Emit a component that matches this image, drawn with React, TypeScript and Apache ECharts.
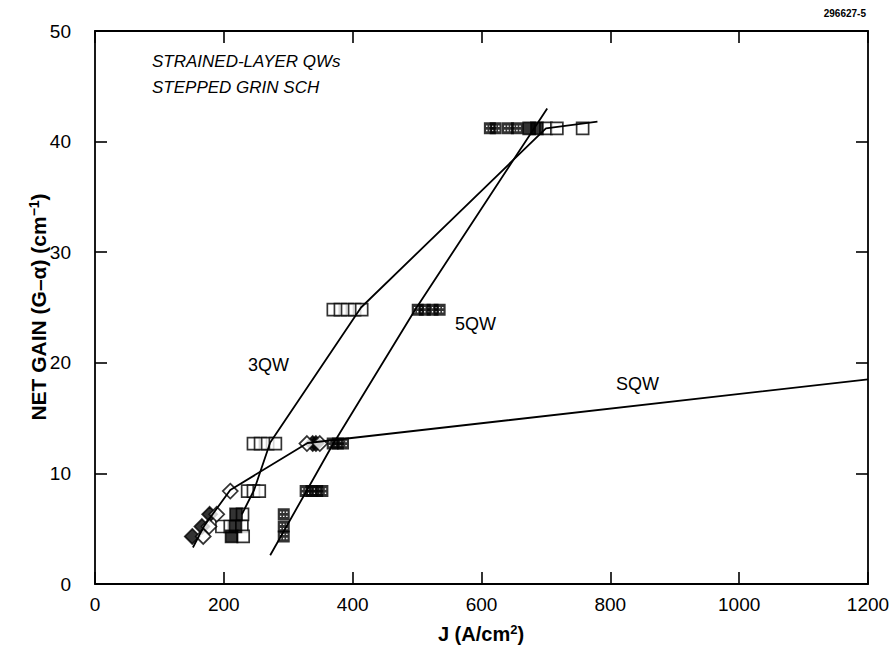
import React, { useEffect, useRef } from "react";
import * as echarts from "echarts";

// ---- data (J in A/cm^2, net gain in cm^-1) ----
const xTickLabels = ["0", "200", "400", "600", "800", "1000", "1200"];
const yTickLabels = ["0", "10", "20", "30", "40", "50"];

const openSquares: [number, number][] = [
  [700, 41.2], [717, 41.2], [757, 41.2],
  [370, 24.8], [381, 24.8], [392, 24.8], [403, 24.8], [414, 24.8],
  [246, 12.7], [257, 12.7], [268, 12.7], [280, 12.7],
  [237, 8.4], [246, 8.4], [255, 8.4],
  [229, 6.3],
  [197, 5.2], [210, 5.2], [228, 5.2],
  [230, 4.3],
];
const filledSquares: [number, number][] = [
  [674, 41.2], [686, 41.2],
  [219, 6.3], [218, 5.2], [212, 4.3],
];
const hatchedSquares: [number, number][] = [
  [613, 41.2], [622, 41.2], [641, 41.2], [655, 41.2],
  [501, 24.8], [512, 24.8], [524, 24.8], [535, 24.8],
  [369, 12.7], [377, 12.7], [385, 12.7],
  [327, 8.4], [336, 8.4], [345, 8.4], [353, 8.4],
  [293, 6.3], [293, 5.2], [293, 4.3],
];
const filledDiamonds: [number, number][] = [
  [338, 12.7], [343, 12.7], [178, 6.3], [166, 5.2], [151, 4.3],
];
const openDiamonds: [number, number][] = [
  [329, 12.7], [349, 12.7], [210, 8.4], [189, 6.3], [177, 5.2], [168, 4.3],
];

const line3QW: [number, number][] = [
  [228, 6.3], [247, 8.5], [272, 12.8], [413, 25.0], [700, 41.2], [780, 41.8],
];
const line5QW: [number, number][] = [
  [272, 2.6], [368, 12.5], [497, 24.8], [702, 43.0],
];
const lineSQW: [number, number][] = [
  [152, 3.3], [170, 5.3], [210, 8.5], [330, 12.75], [1200, 18.5],
];

const HATCH =
  "path://M0,0H12V12H0Z M2.2,3.2V4.6H3.6V3.2Z M5.3,3.2V4.6H6.7V3.2Z M8.4,3.2V4.6H9.8V3.2Z M2.2,7.4V8.8H3.6V7.4Z M5.3,7.4V8.8H6.7V7.4Z M8.4,7.4V8.8H9.8V7.4Z";

const FONT = "Liberation Sans, Arial, Helvetica, sans-serif";

export default function App() {
  const ref = useRef<HTMLDivElement>(null);
  useEffect(() => {
    if (!ref.current) return;
    const chart = echarts.init(ref.current, null, { renderer: "svg" });
    const axisLine = { show: true, onZero: false, lineStyle: { color: "#000", width: 1.8 } };
    const tick = { show: true, inside: true, length: 12, lineStyle: { color: "#000", width: 1.6 } };
    const lineSeries = (name: string, data: [number, number][]) => ({
      name,
      type: "line",
      data,
      showSymbol: false,
      symbol: "none",
      lineStyle: { color: "#000", width: 1.8 },
      z: 5,
    });
    const scatter = (name: string, data: [number, number][], symbol: string, size: number, color: string, border: boolean) => ({
      name,
      type: "scatter",
      data,
      symbol,
      symbolSize: size,
      itemStyle: border
        ? { color, borderColor: "#000", borderWidth: 1.7 }
        : { color, borderWidth: 0 },
      z: 3,
    });
    const title = { fontSize: 20, fontWeight: "bold", fontFamily: FONT, fill: "#000" };
    const sup = { fontSize: 13, fontWeight: "bold", fontFamily: FONT, fill: "#000", verticalAlign: "top", padding: [0, 0, 9, 0] };
    const ytitle = { fontSize: 21, fontWeight: "bold", fontFamily: FONT, fill: "#000" };
    const ysup = { fontSize: 14, fontWeight: "bold", fontFamily: FONT, fill: "#000", verticalAlign: "top", padding: [0, 0, 9, 0] };
    chart.setOption({
      animation: false,
      backgroundColor: "#fff",
      grid: { left: 95, right: 28, top: 31, bottom: 71, containLabel: false },
      xAxis: [
        {
          type: "value", min: 0, max: 1200, interval: 200,
          axisLine, axisTick: tick, splitLine: { show: false },
          axisLabel: {
            color: "#000", fontSize: 19, fontFamily: FONT, margin: 11,
            formatter: (v: number) => xTickLabels[Math.round(v / 200)] ?? "",
          },
        },
        {
          type: "value", position: "top", min: 0, max: 1200, interval: 200,
          axisLine, axisTick: tick, axisLabel: { show: false }, splitLine: { show: false },
        },
      ],
      yAxis: [
        {
          type: "value", min: 0, max: 50, interval: 10,
          axisLine, axisTick: tick, splitLine: { show: false },
          axisLabel: {
            color: "#000", fontSize: 19, fontFamily: FONT, margin: 24,
            formatter: (v: number) => yTickLabels[Math.round(v / 10)] ?? "",
          },
        },
        {
          type: "value", position: "right", min: 0, max: 50, interval: 10,
          axisLine, axisTick: tick, axisLabel: { show: false }, splitLine: { show: false },
        },
      ],
      series: [
        scatter("hatched", hatchedSquares, HATCH, 12, "#000", false),
        scatter("open squares", openSquares, "rect", 12, "#fff", true),
        scatter("filled squares", filledSquares, "rect", 12, "#000", true),
        scatter("filled diamonds", filledDiamonds, "diamond", 15, "#000", true),
        scatter("open diamonds", openDiamonds, "diamond", 15, "#fff", true),
        lineSeries("3QW", line3QW),
        lineSeries("5QW", line5QW),
        lineSeries("SQW", lineSQW),
      ],
      graphic: [
        {
          type: "text", right: 30, top: 8,
          style: { text: "296627-5", fontSize: 10, fontWeight: "bold", fontFamily: FONT, fill: "#000" },
        },
        {
          type: "text", left: 152, top: 53,
          style: { text: "STRAINED-LAYER QWs", fontSize: 17, fontStyle: "italic", fontFamily: FONT, fill: "#000" },
        },
        {
          type: "text", left: 152, top: 79,
          style: { text: "STEPPED GRIN SCH", fontSize: 17, fontStyle: "italic", fontFamily: FONT, fill: "#000" },
        },
        {
          type: "text", left: 248, top: 356,
          style: { text: "3QW", fontSize: 18, fontFamily: FONT, fill: "#000" },
        },
        {
          type: "text", left: 455, top: 315,
          style: { text: "5QW", fontSize: 18, fontFamily: FONT, fill: "#000" },
        },
        {
          type: "text", left: 616, top: 375,
          style: { text: "SQW", fontSize: 18, fontFamily: FONT, fill: "#000" },
        },
        {
          type: "text", x: 38, y: 307, rotation: Math.PI / 2,
          style: {
            text: "{b|NET GAIN (G–α) (cm}{s|−1}{b|)}",
            align: "center", verticalAlign: "middle",
            rich: { b: ytitle, s: ysup },
          },
        },
        {
          type: "text", x: 481, y: 634,
          style: {
            text: "{b|J (A/cm}{s|2}{b|)}",
            align: "center", verticalAlign: "middle",
            rich: { b: title, s: sup },
          },
        },
      ],
    });
    return () => chart.dispose();
  }, []);
  return (
    <div
      ref={ref}
      style={{ position: "fixed", left: 0, top: 0, width: 896, height: 655, background: "#fff" }}
    />
  );
}
